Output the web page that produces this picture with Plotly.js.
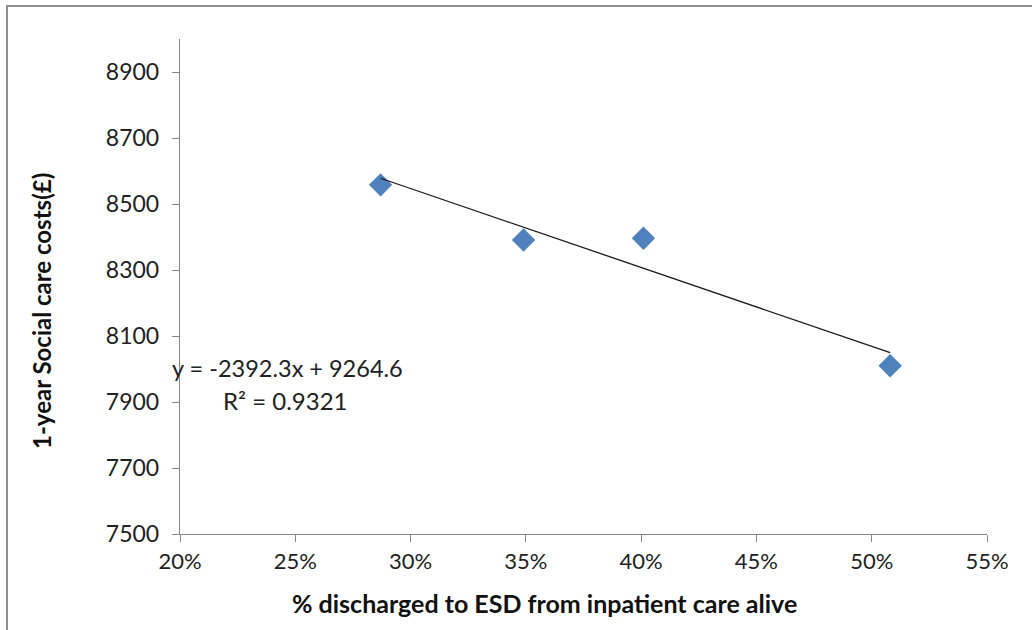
<!DOCTYPE html>
<html>
<head>
<meta charset="utf-8">
<script src="https://cdn.plot.ly/plotly-3.0.1.min.js"></script>
<style>
  html, body { margin: 0; padding: 0; background: #fff; overflow: hidden; }
  #frame { position: absolute; left: 6px; top: 5px; width: 1100px; height: 700px;
           border-left: 2px solid #8e8e8e; border-top: 2px solid #8e8e8e; pointer-events: none; z-index: 5; }
  #chart { width: 1032px; height: 630px; }
</style>
</head>
<body>
<div id="frame"></div>
<div id="chart"></div>
<script>
// Data
const dischargedESD = [0.287, 0.349, 0.401, 0.508];
const socialCareCost = [8558, 8391, 8396, 8010];
// Printed linear trendline: y = -2392.3x + 9264.6, R² = 0.9321
const trendSlope = -2392.3;
const trendIntercept = 9264.6;
const trendLabel = "y = -2392.3x + 9264.6";
const r2Label = "R\u00b2 = 0.9321";
const xTickVals = [0.20, 0.25, 0.30, 0.35, 0.40, 0.45, 0.50, 0.55];
const xTickText = ["20%", "25%", "30%", "35%", "40%", "45%", "50%", "55%"];
const yTickVals = [7500, 7700, 7900, 8100, 8300, 8500, 8700, 8900];
const xTitle = "% discharged to ESD from inpatient care alive";
const yTitle = "1-year Social care costs(\u00a3)";

const trendX = [Math.min(...dischargedESD), Math.max(...dischargedESD)];
const trendY = trendX.map(v => trendSlope * v + trendIntercept);

const FONT = "Lato, 'Open Sans', sans-serif";
const AX = "#868686";

const traces = [
  {
    x: dischargedESD, y: socialCareCost, type: "scatter", mode: "markers",
    marker: { symbol: "diamond", size: 18, color: "#4F81BD" },
    hoverinfo: "x+y", cliponaxis: false
  },
  {
    x: trendX, y: trendY, type: "scatter", mode: "lines",
    line: { color: "#1a1a1a", width: 1.3 }, hoverinfo: "skip"
  }
];

const layout = {
  width: 1032, height: 630,
  margin: { l: 180, r: 45, t: 39, b: 96 },
  paper_bgcolor: "#ffffff", plot_bgcolor: "#ffffff",
  showlegend: false,
  font: { family: FONT, color: "#222", size: 22 },
  xaxis: {
    range: [0.20, 0.55], tickvals: xTickVals, ticktext: xTickText,
    showgrid: false, zeroline: false, showline: true, linecolor: AX, linewidth: 1.2,
    ticks: "outside", ticklen: 7, tickcolor: AX, tickwidth: 1,
    tickfont: { family: FONT, size: 22, color: "#222" }, ticklabelstandoff: 0
  },
  yaxis: {
    range: [7500, 9000], tickvals: yTickVals,
    showgrid: false, zeroline: false, showline: true, linecolor: AX, linewidth: 1.2,
    ticks: "outside", ticklen: 7, tickcolor: AX, tickwidth: 1,
    tickfont: { family: FONT, size: 23, color: "#222" }, ticklabelstandoff: 8
  },
  annotations: [
    { text: xTitle, xref: "paper", yref: "paper",
      x: (544 - 180) / 807, y: (534 - 603) / 495, xanchor: "center", yanchor: "middle",
      showarrow: false, font: { family: FONT, size: 25, color: "#111", weight: "bold" } },
    { text: yTitle, xref: "paper", yref: "paper", textangle: -90,
      x: (41 - 180) / 807, y: (534 - 311) / 495, xanchor: "center", yanchor: "middle",
      showarrow: false, font: { family: FONT, size: 24, color: "#111", weight: "bold" } },
    { text: trendLabel, xref: "paper", yref: "paper",
      x: (287 - 180) / 807, y: (534 - 368) / 495, xanchor: "center", yanchor: "middle",
      showarrow: false, font: { family: FONT, size: 23.5, color: "#222" } },
    { text: r2Label, xref: "paper", yref: "paper",
      x: (285 - 180) / 807, y: (534 - 400) / 495, xanchor: "center", yanchor: "middle",
      showarrow: false, font: { family: FONT, size: 24, color: "#222" } }
  ]
};

Plotly.newPlot("chart", traces, layout, { displayModeBar: false, staticPlot: true });
</script>
</body>
</html>
